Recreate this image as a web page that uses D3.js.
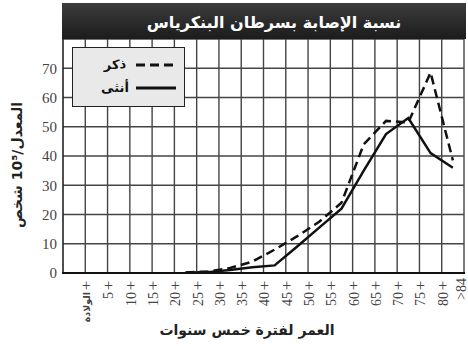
<!DOCTYPE html>
<html>
<head>
<meta charset="utf-8">
<script src="https://d3js.org/d3.v7.min.js"></script>
<style>
    body { margin: 0; background: #ffffff; }
    svg { display: block; }
</style>
</head>
<body>
<div id="chart"></div>
<script>
    // Data
    var categories = ["الولادة", "5", "10", "15", "20", "25", "30", "35", "40",
        "45", "50", "55", "60", "65", "70", "75", "80", ">84"];
    var male = [null, null, null, null, null, 0.2, 0.5, 1.7, 3.9, 8, 12.5, 17.5,
        24, 44, 52, 51.5, 68.5, 38.5];
    var female = [null, null, null, null, null, 0.1, 0.3, 1, 2, 2.6, 9, 15.5,
        22, 35, 47.5, 53, 41, 36];
    var yTicks = [0, 10, 20, 30, 40, 50, 60, 70];

    var title = "نسبة الإصابة بسرطان البنكرياس";
    var xTitle = "العمر لفترة خمس سنوات";
    var yTitle = "المعدل/10⁵ شخص";

    var width = 468, height = 346;
    var plotLeft = 63, plotRight = 464, plotTop = 39, plotBottom = 273;

    var svg = d3.select("#chart").append("svg")
        .attr("width", width)
        .attr("height", height);

    var x = d3.scaleBand().domain(categories).range([plotLeft, plotRight]).padding(0);
    var y = d3.scaleLinear().domain([0, 80]).range([plotBottom, plotTop]);

    // Grid
    var grid = svg.append("g").attr("stroke", "#444").attr("stroke-width", 1.4);
    grid.selectAll(".v")
        .data(categories)
        .enter().append("line")
        .attr("x1", function (d) { return x(d) + x.bandwidth(); })
        .attr("x2", function (d) { return x(d) + x.bandwidth(); })
        .attr("y1", plotTop)
        .attr("y2", plotBottom);
    grid.selectAll(".h")
        .data(d3.range(10, 81, 10))
        .enter().append("line")
        .attr("x1", plotLeft)
        .attr("x2", plotRight)
        .attr("y1", function (d) { return y(d); })
        .attr("y2", function (d) { return y(d); });

    // Frame
    svg.append("line").attr("x1", plotLeft).attr("x2", plotLeft).attr("y1", plotTop).attr("y2", plotBottom)
        .attr("stroke", "#222").attr("stroke-width", 1.6);
    svg.append("line").attr("x1", plotLeft - 1).attr("x2", plotRight + 1).attr("y1", plotBottom).attr("y2", plotBottom)
        .attr("stroke", "#111").attr("stroke-width", 2.2);

    // Title bar
    var grad = svg.append("defs").append("linearGradient")
        .attr("id", "bar").attr("x1", 0).attr("x2", 0).attr("y1", 0).attr("y2", 1);
    grad.append("stop").attr("offset", "0%").attr("stop-color", "#3c3c3c");
    grad.append("stop").attr("offset", "100%").attr("stop-color", "#1c1c1c");
    svg.append("rect")
        .attr("x", 62).attr("y", 3).attr("width", 404).attr("height", 36)
        .attr("fill", "url(#bar)");
    svg.append("text")
        .attr("x", 274).attr("y", 23)
        .attr("text-anchor", "middle")
        .attr("dominant-baseline", "middle")
        .attr("direction", "rtl")
        .attr("fill", "#fff")
        .style("font-family", "DejaVu Sans")
        .style("font-weight", "bold")
        .style("font-size", "16px")
        .text(title);

    // Y tick labels
    svg.append("g").selectAll("text")
        .data(yTicks)
        .enter().append("text")
        .attr("x", 57)
        .attr("y", function (d) { return y(d); })
        .attr("dy", "0.35em")
        .attr("text-anchor", "end")
        .attr("fill", "#444")
        .style("font-family", "Liberation Serif")
        .style("font-size", "15px")
        .text(function (d) { return d; });

    // X tick marks (+) and rotated labels
    var xt = svg.append("g");
    xt.selectAll(".plus")
        .data(categories.slice(0, -1))
        .enter().append("text")
        .attr("x", function (d) { return x(d) + x.bandwidth() + 1; })
        .attr("y", 285)
        .attr("dy", "0.35em")
        .attr("text-anchor", "middle")
        .attr("fill", "#444")
        .style("font-family", "Liberation Serif")
        .style("font-size", "16px")
        .text("+");
    xt.selectAll(".lab")
        .data(categories)
        .enter().append("text")
        .attr("transform", function (d, i) {
            var last = i === categories.length - 1;
            var xx = last ? x(d) + x.bandwidth() - 3 : x(d) + x.bandwidth() + 1;
            var yy = last ? 278 : 292;
            return "translate(" + xx + "," + yy + ") rotate(-90)";
        })
        .attr("dy", "0.35em")
        .attr("text-anchor", "end")
        .attr("fill", "#444")
        .style("font-family", function (d, i) { return i === 0 ? "DejaVu Sans" : "Liberation Serif"; })
        .style("font-weight", function (d, i) { return i === 0 ? "bold" : "normal"; })
        .style("font-size", function (d, i) { return i === 0 ? "9.5px" : "14px"; })
        .text(function (d) { return d; });

    // Axis titles
    svg.append("text")
        .attr("x", 247).attr("y", 331)
        .attr("text-anchor", "middle")
        .attr("dominant-baseline", "middle")
        .attr("direction", "rtl")
        .attr("fill", "#222")
        .style("font-family", "DejaVu Sans")
        .style("font-weight", "bold")
        .style("font-size", "14px")
        .text(xTitle);
    svg.append("text")
        .attr("transform", "translate(18,165) rotate(-90)")
        .attr("text-anchor", "middle")
        .attr("dominant-baseline", "middle")
        .attr("direction", "rtl")
        .attr("fill", "#222")
        .style("font-family", "DejaVu Sans")
        .style("font-weight", "bold")
        .style("font-size", "14px")
        .text(yTitle);

    // Lines
    var line = d3.line()
        .defined(function (d) { return d != null; })
        .x(function (d, i) { return x(categories[i]) + x.bandwidth() / 2; })
        .y(function (d) { return y(d); });

    svg.append("path")
        .datum(male)
        .attr("d", line)
        .attr("fill", "none")
        .attr("stroke", "#111")
        .attr("stroke-width", 2.5)
        .attr("stroke-dasharray", "9,5");
    svg.append("path")
        .datum(female)
        .attr("d", line)
        .attr("fill", "none")
        .attr("stroke", "#111")
        .attr("stroke-width", 2.5);

    // Legend
    var lg = svg.append("g");
    lg.append("rect")
        .attr("x", 72.5).attr("y", 47.5).attr("width", 112).attr("height", 59)
        .attr("fill", "#e9e9e9").attr("stroke", "#222").attr("stroke-width", 1);
    var items = [{ name: "ذكر", dash: "9,5", yy: 65 }, { name: "أنثى", dash: null, yy: 88 }];
    items.forEach(function (it) {
        lg.append("line")
            .attr("x1", 136).attr("x2", 176).attr("y1", it.yy).attr("y2", it.yy)
            .attr("stroke", "#111").attr("stroke-width", 2.8)
            .attr("stroke-dasharray", it.dash);
        lg.append("text")
            .attr("x", 115).attr("y", it.yy)
            .attr("dy", "0.3em")
            .attr("text-anchor", "middle")
            .attr("fill", "#111")
            .style("font-family", "DejaVu Sans")
            .style("font-weight", "bold")
            .style("font-size", "13px")
            .text(it.name);
    });
</script>
</body>
</html>
